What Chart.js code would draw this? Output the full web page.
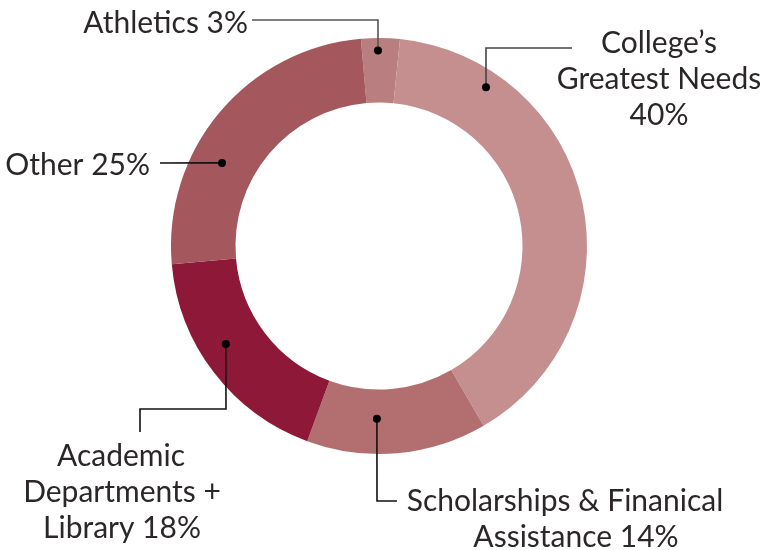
<!DOCTYPE html>
<html>
<head>
<meta charset="utf-8">
<script src="https://cdn.jsdelivr.net/npm/chart.js@4.4.1/dist/chart.umd.min.js"></script>
<style>
  html, body { margin: 0; padding: 0; background: #ffffff; }
  #wrap { width: 769px; height: 550px; position: relative; }
</style>
</head>
<body>
<div id="wrap"><canvas id="c" width="769" height="550"></canvas></div>
<script>
// ---- data ----
const categories = ["Athletics", "College\u2019s Greatest Needs", "Scholarships & Finanical Assistance", "Academic Departments + Library", "Other"];
const shares = [3, 40, 14, 18, 25];
const sliceColors = ["#b97f80", "#c58f8f", "#b36f70", "#8d1838", "#a4575c"];
const labelLines = [
  ["Athletics 3%"],
  ["College\u2019s", "Greatest Needs", "40%"],
  ["Scholarships & Finanical", "Assistance 14%"],
  ["Academic", "Departments +", "Library 18%"],
  ["Other 25%"]
];

// ---- annotation layout (leader dots in polar terms of the ring, elbows/text in px) ----
const callouts = [
  { dotAngle: -0.3, dotR: 0.94, path: [[378, 20], [252, 20]], lineColor: "#555555",
    text: [{ x: 248, y: 33, align: "right" }] },
  { dotAngle: 34, dotR: 0.92, path: [[486, 48], [572, 48]], lineColor: "#444444",
    text: [{ x: 659, y: 53, align: "center" }, { x: 659, y: 89, align: "center" }, { x: 659, y: 125, align: "center" }] },
  { dotAngle: 180.7, dotR: 0.83, path: [[377, 501], [397, 501]], lineColor: "#111111",
    text: [{ x: 565, y: 511, align: "center" }, { x: 576, y: 547, align: "center" }] },
  { dotAngle: 237.4, dotR: 0.874, path: [[226, 409], [140, 409], [140, 432]], lineColor: "#111111",
    text: [{ x: 121, y: 466, align: "center" }, { x: 122, y: 502, align: "center" }, { x: 122, y: 538, align: "center" }] },
  { dotAngle: 297.9, dotR: 0.854, path: [[160, 163]], lineColor: "#111111",
    text: [{ x: 150, y: 175, align: "right" }] }
];

const calloutPlugin = {
  id: "callouts",
  afterDraw(chart) {
    const ctx = chart.ctx;
    const meta = chart.getDatasetMeta(0);
    const arc0 = meta.data[0];
    const cx = arc0.x, cy = arc0.y, R = arc0.outerRadius;
    ctx.save();
    callouts.forEach((c, i) => {
      const a = c.dotAngle * Math.PI / 180;
      const dx = cx + Math.sin(a) * R * c.dotR;
      const dy = cy - Math.cos(a) * R * c.dotR;
      ctx.strokeStyle = c.lineColor;
      ctx.lineWidth = 1.6;
      ctx.beginPath();
      ctx.moveTo(dx, dy);
      c.path.forEach(p => ctx.lineTo(p[0], p[1]));
      ctx.stroke();
      ctx.fillStyle = "#000000";
      ctx.beginPath();
      ctx.arc(dx, dy, 4, 0, Math.PI * 2);
      ctx.fill();
      ctx.fillStyle = "#2b2728";
      ctx.font = "30px Lato";
      ctx.textBaseline = "alphabetic";
      labelLines[i].forEach((line, j) => {
        const t = c.text[j];
        ctx.textAlign = t.align;
        ctx.fillText(line, t.x, t.y);
      });
    });
    ctx.restore();
  }
};

new Chart(document.getElementById("c"), {
  type: "doughnut",
  data: {
    labels: categories,
    datasets: [{
      data: shares,
      backgroundColor: sliceColors,
      borderWidth: 0,
      hoverOffset: 0
    }]
  },
  options: {
    responsive: false,
    animation: false,
    rotation: -5,
    cutout: "69%",
    layout: { padding: { top: 38, bottom: 96, left: 171, right: 182 } },
    plugins: {
      legend: { display: false },
      tooltip: { enabled: false }
    }
  },
  plugins: [calloutPlugin]
});
</script>
</body>
</html>
